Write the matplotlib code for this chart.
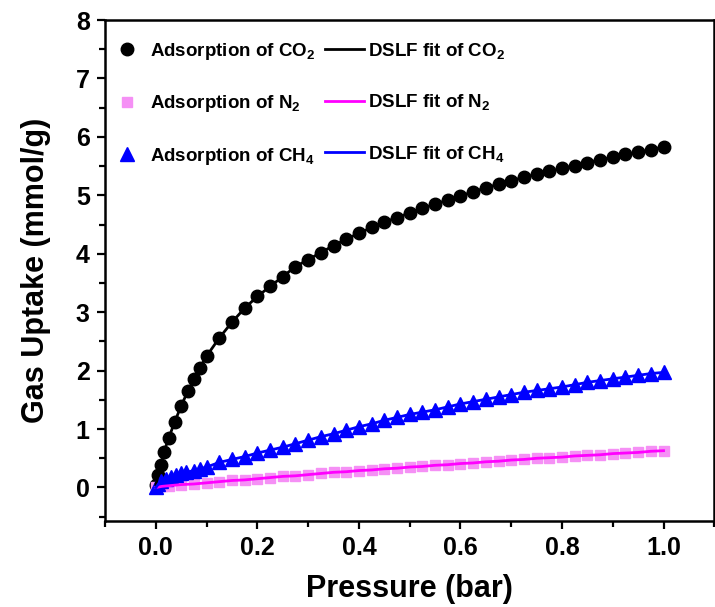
import matplotlib
matplotlib.use('Agg')
import matplotlib.pyplot as plt
from matplotlib.ticker import MultipleLocator

plt.rcParams['font.family'] = ['Liberation Sans', 'DejaVu Sans']
plt.rcParams['font.weight'] = 'bold'
plt.rcParams['mathtext.fontset'] = 'custom'
plt.rcParams['mathtext.rm'] = 'Liberation Sans:bold'
plt.rcParams['mathtext.it'] = 'Liberation Sans:bold'
plt.rcParams['mathtext.bf'] = 'Liberation Sans:bold'

# CO2 isotherm (bar, mmol/g)
co2_p = [0.0, 0.005, 0.01, 0.016, 0.025, 0.037, 0.05, 0.063, 0.075, 0.087, 0.1,
         0.125, 0.15, 0.175, 0.2, 0.225, 0.25, 0.275, 0.3, 0.325, 0.35, 0.375,
         0.4, 0.425, 0.45, 0.475, 0.5, 0.525, 0.55, 0.575, 0.6, 0.625, 0.65,
         0.675, 0.7, 0.725, 0.75, 0.775, 0.8, 0.825, 0.85, 0.875, 0.9, 0.925,
         0.95, 0.975, 1.0]
co2_q = [0.05, 0.22, 0.38, 0.61, 0.84, 1.12, 1.40, 1.65, 1.85, 2.05, 2.25,
         2.56, 2.83, 3.07, 3.27, 3.44, 3.61, 3.78, 3.90, 4.02, 4.14, 4.25,
         4.35, 4.45, 4.54, 4.62, 4.70, 4.78, 4.85, 4.92, 4.99, 5.06, 5.13,
         5.19, 5.25, 5.31, 5.36, 5.41, 5.46, 5.51, 5.56, 5.61, 5.65, 5.70,
         5.74, 5.78, 5.83]

# CH4 isotherm
ch4_p = [0.0, 0.005, 0.01, 0.02, 0.03, 0.04, 0.05, 0.06, 0.075, 0.0875, 0.1,
         0.125, 0.15, 0.175, 0.2, 0.225, 0.25, 0.275, 0.3, 0.325, 0.35, 0.375,
         0.4, 0.425, 0.45, 0.475, 0.5, 0.525, 0.55, 0.575, 0.6, 0.625, 0.65,
         0.675, 0.7, 0.725, 0.75, 0.775, 0.8, 0.825, 0.85, 0.875, 0.9, 0.925,
         0.95, 0.975, 1.0]
ch4_q = [0.0, 0.06, 0.11, 0.15, 0.18, 0.21, 0.24, 0.26, 0.29, 0.32, 0.35,
         0.43, 0.48, 0.53, 0.59, 0.64, 0.69, 0.75, 0.81, 0.87, 0.92, 0.98,
         1.04, 1.09, 1.15, 1.20, 1.25, 1.29, 1.33, 1.38, 1.43, 1.47, 1.51,
         1.55, 1.59, 1.63, 1.66, 1.69, 1.72, 1.76, 1.80, 1.83, 1.86, 1.89,
         1.92, 1.95, 1.97]

# N2 isotherm
n2_p = [0.0, 0.0125, 0.025, 0.05, 0.075, 0.1, 0.125, 0.15, 0.175, 0.2, 0.225,
        0.25, 0.275, 0.3, 0.325, 0.35, 0.375, 0.4, 0.425, 0.45, 0.475, 0.5,
        0.525, 0.55, 0.575, 0.6, 0.625, 0.65, 0.675, 0.7, 0.725, 0.75, 0.775,
        0.8, 0.825, 0.85, 0.875, 0.9, 0.925, 0.95, 0.975, 1.0]
n2_q = [0.0, 0.02, 0.03, 0.05, 0.06, 0.08, 0.10, 0.12, 0.13, 0.15, 0.17,
        0.19, 0.20, 0.22, 0.24, 0.26, 0.27, 0.29, 0.30, 0.32, 0.33, 0.35,
        0.36, 0.38, 0.39, 0.41, 0.42, 0.44, 0.45, 0.47, 0.48, 0.50, 0.51,
        0.52, 0.54, 0.55, 0.56, 0.58, 0.59, 0.60, 0.62, 0.63]

fig = plt.figure(figsize=(7.15, 6.07), dpi=100)
ax = fig.add_axes([0.147, 0.142, 0.852, 0.825])

h1, = ax.plot(co2_p, co2_q, 'o', color='black', ms=9, ls='none', zorder=3)
h2, = ax.plot(n2_p, n2_q, 's', color='#f590f5', ms=7.5, ls='none', zorder=3)
h3, = ax.plot(ch4_p, ch4_q, '^', color='#0000ff', ms=10, ls='none', zorder=3)
l1, = ax.plot(co2_p, co2_q, '-', color='black', lw=2, zorder=4)
l2, = ax.plot(n2_p, n2_q, '-', color='#ff00ff', lw=2, zorder=4)
l3, = ax.plot(ch4_p, ch4_q, '-', color='#0000ff', lw=2, zorder=4)

ax.set_xlim(-0.1, 1.1)
ax.set_ylim(-0.57, 8)
ax.xaxis.set_major_locator(MultipleLocator(0.2))
ax.xaxis.set_minor_locator(MultipleLocator(0.1))
ax.yaxis.set_major_locator(MultipleLocator(1))
ax.yaxis.set_minor_locator(MultipleLocator(0.5))
ax.set_xticks([0.0, 0.2, 0.4, 0.6, 0.8, 1.0])
ax.set_xticklabels(['0.0', '0.2', '0.4', '0.6', '0.8', '1.0'])

ax.tick_params(which='major', direction='out', length=6, width=1.6,
               labelsize=18, pad=5)
ax.tick_params(which='minor', direction='out', length=4, width=1.6)
for s in ax.spines.values():
    s.set_linewidth(1.8)

ax.set_xlabel('Pressure (bar)', fontsize=22, fontweight='bold', labelpad=10)
ax.set_ylabel('Gas Uptake (mmol/g)', fontsize=22, fontweight='bold', labelpad=18)

leg = ax.legend([h1, h2, h3, l1, l2, l3],
                ['Adsorption of CO$_2$', 'Adsorption of N$_2$', 'Adsorption of CH$_4$',
                 'DSLF fit of CO$_2$', 'DSLF fit of N$_2$', 'DSLF fit of CH$_4$'],
                ncol=2, loc='upper left', bbox_to_anchor=(0.0, 0.962),
                frameon=False, labelspacing=1.68, borderpad=0.0,
                handlelength=2.1, handletextpad=0.2, columnspacing=0.5,
                borderaxespad=0.1, prop={'weight': 'bold', 'size': 13.5})

fig.savefig('out.png', dpi=100)
